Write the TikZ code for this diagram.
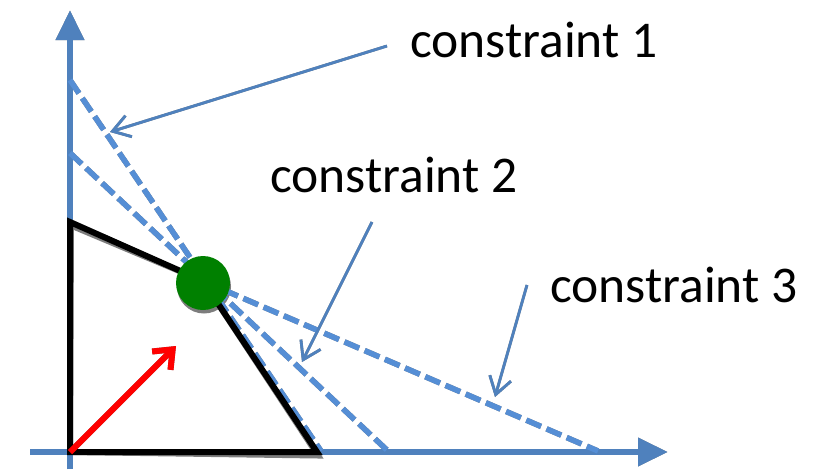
\documentclass[tikz,border=0pt]{standalone}
\usepackage{fontspec}
\setmainfont{Carlito}
\usetikzlibrary{arrows.meta}
\definecolor{axisblue}{RGB}{79,129,189}
\definecolor{dashblue}{RGB}{85,142,213}
\definecolor{dotgreen}{RGB}{0,128,0}
\definecolor{shadowgray}{RGB}{125,125,125}
\tikzset{
    axisline/.style={draw=axisblue,line width=6.5pt,-{Triangle[width=27pt,length=30pt]}},
    constr/.style={draw=dashblue,line width=5.5pt,dash pattern=on 16pt off 6pt},
    region/.style={draw=black,line width=6pt,line join=miter},
    dirarrow/.style={draw=red,line width=6pt,-{Straight Barb[length=16pt,width=26pt]}},
    pointer/.style={draw=axisblue,line width=2.8pt,-{Straight Barb[length=17pt,width=22pt]}},
    optdot/.style={circle,fill=dotgreen,minimum size=54pt,inner sep=0pt},
    ctext/.style={inner sep=0pt,anchor=base west,font=\fontsize{51.5}{60}\selectfont}
}
% every stroke of the figure, drawn once as shadow and once on top
\newcommand\figlines{%
    \draw[axisline] (ybot) -- (ytop);
    \draw[axisline] (xleft) -- (xright);
    \draw[constr] (c1a) -- (c1b);
    \draw[constr] (c2a) -- (c2b);
    \draw[constr] (opt) -- (c3b);
    \draw[region] (O) -- (70,222) -- (opt) -- (317,452) -- cycle;
    \node[optdot] (dot) at (203,283) {};
    \draw[dirarrow] (O) -- (dir);
    \draw[pointer] (p1) -- (q1);
    \draw[pointer] (p2) -- (q2);
    \draw[pointer] (p3) -- (q3);
}
\begin{document}
\begin{tikzpicture}[x=1pt,y=-1pt]
    \useasboundingbox (0,0) rectangle (825,469);
    \coordinate (O) at (70,452);
    \coordinate (opt) at (203,281);
    \coordinate (ybot) at (70,469);
    \coordinate (ytop) at (70,10);
    \coordinate (xleft) at (30,452);
    \coordinate (xright) at (668,452);
    % constraints through the optimum
    \coordinate (c1a) at (70,80);
    \coordinate (c1b) at (321,451);
    \coordinate (c2a) at (70,153);
    \coordinate (c2b) at (388,451);
    \coordinate (c3b) at (598,451);
    \coordinate (dir) at (176,346);
    \coordinate (p1) at (387,46);
    \coordinate (q1) at (110,132);
    \coordinate (p2) at (372,222);
    \coordinate (q2) at (302,362);
    \coordinate (p3) at (527,285);
    \coordinate (q3) at (495,397);

    \begin{scope}[shift={(1,3.5)},
        axisline/.append style={draw=shadowgray},
        constr/.append style={draw=shadowgray},
        region/.append style={draw=shadowgray},
        dirarrow/.append style={draw=shadowgray},
        pointer/.append style={draw=shadowgray},
        optdot/.append style={fill=shadowgray}]
        \figlines
    \end{scope}
    \figlines

    \node[ctext] (lab1) at (410,57) {constraint 1};
    \node[ctext] (lab2) at (270,192) {constraint 2};
    \node[ctext] (lab3) at (550,302) {constraint 3};
\end{tikzpicture}
\end{document}
